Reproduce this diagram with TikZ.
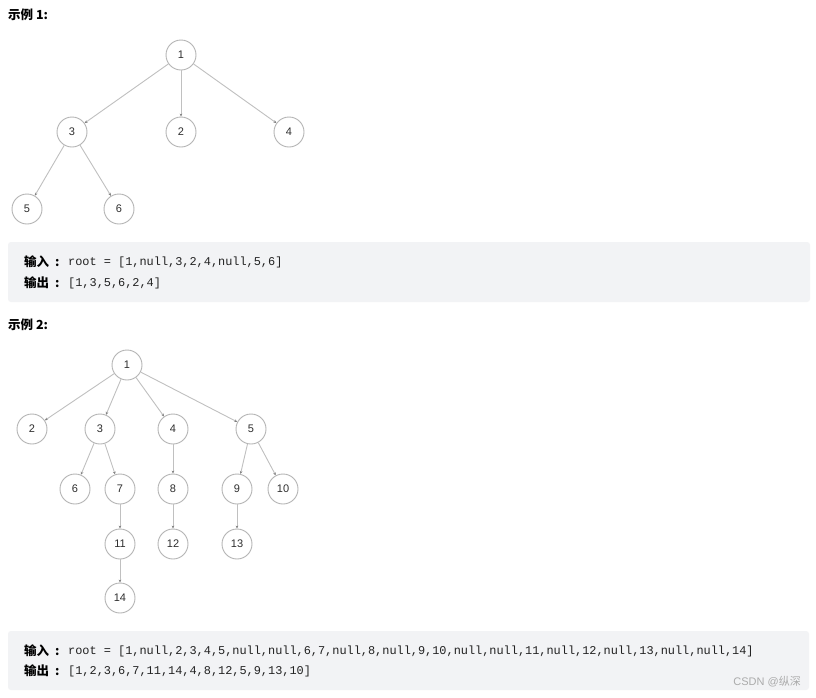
\documentclass[tikz,border=0pt]{standalone}
\usepackage{fontspec}
\setmainfont{Liberation Sans}
\setmonofont{Liberation Mono}
\newfontfamily\cjk{Noto Sans CJK SC}
\usetikzlibrary{arrows.meta}
\definecolor{boxbg}{HTML}{F2F3F5}
\definecolor{circ}{HTML}{B4B4B4}
\definecolor{edgec}{HTML}{C0C0C0}
\definecolor{txt}{HTML}{2E2E2E}
\definecolor{codec}{HTML}{222222}
\definecolor{wm}{HTML}{ABABAB}
\begin{document}
\begin{tikzpicture}[x=1pt,y=-1pt,
  tn/.style={circle,draw=circ,line width=0.9pt,minimum size=30pt,inner sep=0pt,
     font=\fontsize{11}{12}\selectfont,text=txt},
  ed/.style={draw=edgec,line width=0.9pt,-{Stealth[length=3pt,width=2.6pt,color=gray]}},
  title/.style={anchor=west,inner sep=0pt,font=\cjk\bfseries\fontsize{12.5}{14}\selectfont,text=black},
  lab/.style={anchor=west,inner sep=0pt,font=\cjk\bfseries\fontsize{12.5}{14}\selectfont,text=black},
  code/.style={anchor=west,inner sep=0pt,font=\ttfamily\fontsize{11.9}{13}\selectfont,text=codec},
  cbox/.style={fill=boxbg,rounded corners=3pt,draw=none}]
\useasboundingbox[fill=white] (0,0) rectangle (816,697);

% Example 1
\node[title] (t1) at (8,15) {示例 1:};
\node[tn] (a1) at (181,55) {1};
\node[tn] (a3) at (72,132) {3};
\node[tn] (a2) at (181,132) {2};
\node[tn] (a4) at (289,132) {4};
\node[tn] (a5) at (27,209) {5};
\node[tn] (a6) at (119,209) {6};
\draw[ed] (a1) -- (a3);
\draw[ed] (a1) -- (a2);
\draw[ed] (a1) -- (a4);
\draw[ed] (a3) -- (a5);
\draw[ed] (a3) -- (a6);

\path[cbox] (8,242) rectangle (810,302);
\node[lab] (in1) at (24,262) {输入\hspace{6pt}:};
\node[code] (c1) at (68,262) {root = [1,null,3,2,4,null,5,6]};
\node[lab] (out1) at (24,283) {输出\hspace{6pt}:};
\node[code] (d1) at (68,283) {[1,3,5,6,2,4]};

% Example 2
\node[title] (t2) at (8,325) {示例 2:};
\node[tn] (b1) at (127,365) {1};
\node[tn] (b2) at (32,429) {2};
\node[tn] (b3) at (100,429) {3};
\node[tn] (b4) at (173,429) {4};
\node[tn] (b5) at (251,429) {5};
\node[tn] (b6) at (75,489) {6};
\node[tn] (b7) at (120,489) {7};
\node[tn] (b8) at (173,489) {8};
\node[tn] (b9) at (237,489) {9};
\node[tn] (b10) at (283,489) {10};
\node[tn] (b11) at (120,544) {11};
\node[tn] (b12) at (173,544) {12};
\node[tn] (b13) at (237,544) {13};
\node[tn] (b14) at (120,598) {14};
\draw[ed] (b1) -- (b2);
\draw[ed] (b1) -- (b3);
\draw[ed] (b1) -- (b4);
\draw[ed] (b1) -- (b5);
\draw[ed] (b3) -- (b6);
\draw[ed] (b3) -- (b7);
\draw[ed] (b4) -- (b8);
\draw[ed] (b5) -- (b9);
\draw[ed] (b5) -- (b10);
\draw[ed] (b7) -- (b11);
\draw[ed] (b8) -- (b12);
\draw[ed] (b9) -- (b13);
\draw[ed] (b11) -- (b14);

\path[cbox] (8,631) rectangle (809,690);
\node[lab] (in2) at (24,651) {输入\hspace{6pt}:};
\node[code] (c2) at (68,651) {root = [1,null,2,3,4,5,null,null,6,7,null,8,null,9,10,null,null,11,null,12,null,13,null,null,14]};
\node[lab] (out2) at (24,671) {输出\hspace{6pt}:};
\node[code] (d2) at (68,671) {[1,2,3,6,7,11,14,4,8,12,5,9,13,10]};
\node[anchor=east,inner sep=0pt,text=wm,font=\fontsize{11}{12}\selectfont] (wmk) at (801,682) {CSDN @{\cjk 纵深}};
\end{tikzpicture}
\end{document}
